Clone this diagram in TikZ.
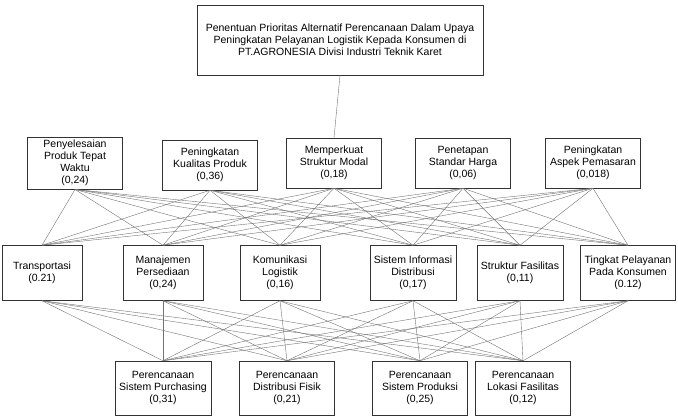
\documentclass[tikz,border=0pt]{standalone}
\usepackage{fontspec}
\setmainfont{Liberation Sans}
\begin{document}
\begin{tikzpicture}[x=1pt,y=-1pt,
  kotak/.style={draw=black!80,line width=0.5pt,align=center,inner xsep=4pt,
    font=\fontsize{10.5}{12}\selectfont},
  goal/.style={kotak,minimum width=286,minimum height=70},
  krit/.style={kotak,minimum width=95,minimum height=50},
  sub/.style={kotak,minimum width=80,minimum height=55},
  alt/.style={kotak,minimum width=95,minimum height=54},
  garis/.style={draw=black!55,line width=0.4pt}]
  \useasboundingbox (0,0) rectangle (678,419);

  \node[goal] (g) at (340,40) {Penentuan Prioritas Alternatif Perencanaan Dalam Upaya\\Peningkatan Pelayanan Logistik Kepada Konsumen di\\PT.AGRONESIA Divisi Industri Teknik Karet};

  \node[krit] (k1) at (75,163) {Penyelesaian\\Produk Tepat\\Waktu\\(0,24)};
  \node[krit] (k2) at (210,165) {Peningkatan\\Kualitas Produk\\(0,36)};
  \node[krit] (k3) at (334,163) {Memperkuat\\Struktur Modal\\(0,18)};
  \node[krit] (k4) at (463,163) {Penetapan\\Standar Harga\\(0,06)};
  \node[krit] (k5) at (593,163) {Peningkatan\\Aspek Pemasaran\\(0,018)};

  \node[sub] (s1) at (42,273) {Transportasi\\(0.21)};
  \node[sub] (s2) at (163,273) {Manajemen\\Persediaan\\(0,24)};
  \node[sub] (s3) at (280,273) {Komunikasi\\Logistik\\(0,16)};
  \node[sub] (s4) at (413,273) {Sistem Informasi\\Distribusi\\(0,17)};
  \node[sub] (s5) at (520,273) {Struktur Fasilitas\\(0,11)};
  \node[sub] (s6) at (628,273) {Tingkat Pelayanan\\Pada Konsumen\\(0.12)};

  \node[alt] (a1) at (163,388) {Perencanaan\\Sistem Purchasing\\(0,31)};
  \node[alt] (a2) at (287,388) {Perencanaan\\Distribusi Fisik\\(0,21)};
  \node[alt] (a3) at (420,388) {Perencanaan\\Sistem Produksi\\(0,25)};
  \node[alt] (a4) at (523,388) {Perencanaan\\Lokasi Fasilitas\\(0,12)};

  \draw[garis] (g.south) -- (k3.north);
  \foreach \i in {1,...,5}
    \foreach \j in {1,...,6}
      \draw[garis] (k\i.south) -- (s\j.north);
  \foreach \j in {1,...,6}
    \foreach \m in {1,...,4}
      \draw[garis] (s\j.south) -- (a\m.north);
\end{tikzpicture}
\end{document}
